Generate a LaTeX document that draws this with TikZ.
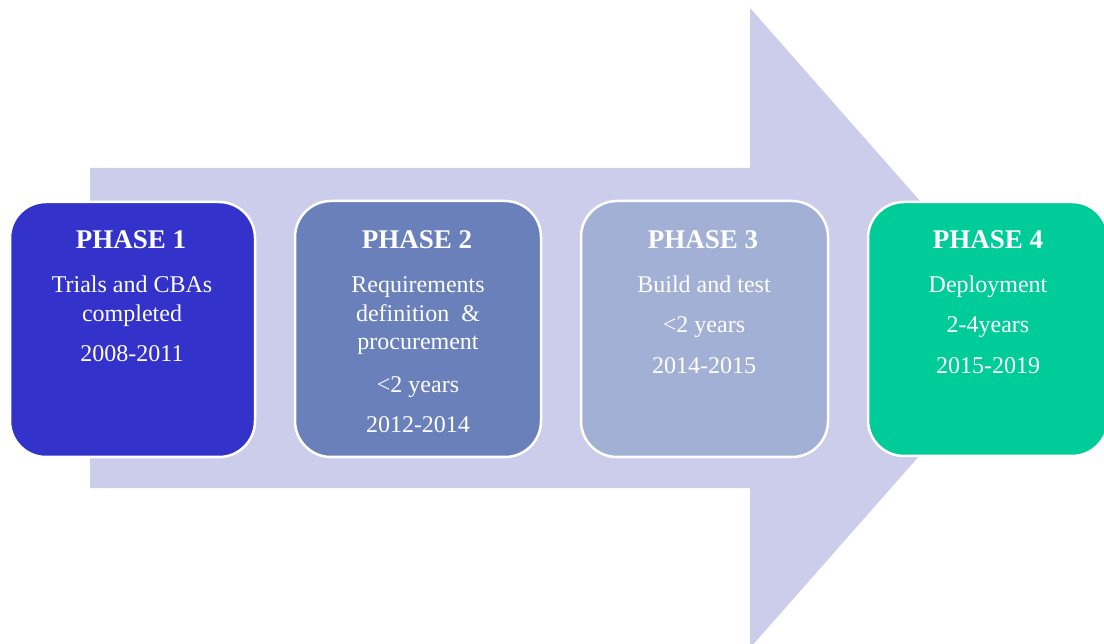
\documentclass[tikz,border=0pt]{standalone}
\usepackage{fontspec}
\setmainfont{Liberation Serif}
\definecolor{arrowfill}{RGB}{204,204,235}
\definecolor{c1}{RGB}{51,51,204}
\definecolor{c2}{RGB}{106,128,186}
\definecolor{c3}{RGB}{163,176,214}
\definecolor{c4}{RGB}{0,204,153}
\tikzset{
  phasebox/.style={draw=white, line width=2.5pt, rounded corners=36pt, inner sep=0pt, rectangle},
  head/.style={text=white, anchor=base, inner sep=0pt, font=\fontsize{27}{30}\selectfont\bfseries},
  body/.style={text=white, anchor=base, inner sep=0pt, font=\fontsize{24}{28}\selectfont},
}
\begin{document}
\begin{tikzpicture}[x=1pt,y=-1pt]
\useasboundingbox (0,0) rectangle (1104,644);
\begin{scope}
\clip (0,0) rectangle (1104,644);
% big arrow
\fill[arrowfill] (90,168) -- (750,168) -- (750,8) -- (1032,328) -- (750,648) -- (750,488) -- (90,488) -- cycle;
% boxes
\node[phasebox, fill=c1, minimum width=245pt, minimum height=255pt] (p1) at (132.5,329.5) {};
\node[phasebox, fill=c2, minimum width=246pt, minimum height=256pt] (p2) at (418,329) {};
\node[phasebox, fill=c3, minimum width=247pt, minimum height=256pt] (p3) at (704.5,329) {};
\node[phasebox, fill=c4, minimum width=240pt, minimum height=254pt] (p4) at (988,329) {};
\end{scope}
% Phase 1
\node[head] (h1) at (131,249) {PHASE 1};
\node[body] (t1a) at (132,293) {Trials and CBAs};
\node[body] (t1b) at (132,322) {completed};
\node[body] (t1c) at (132,362) {2008-2011};
% Phase 2
\node[head] (h2) at (417,249) {PHASE 2};
\node[body] (t2a) at (418,293) {Requirements};
\node[body] (t2b) at (418,322) {definition\ \ \&};
\node[body] (t2c) at (418,350) {procurement};
\node[body] (t2d) at (418,393) {<2 years};
\node[body] (t2e) at (418,433) {2012-2014};
% Phase 3
\node[head] (h3) at (703,249) {PHASE 3};
\node[body] (t3a) at (704,293) {Build and test};
\node[body] (t3b) at (704,333) {<2 years};
\node[body] (t3c) at (704,374) {2014-2015};
% Phase 4
\node[head] (h4) at (988,249) {PHASE 4};
\node[body] (t4a) at (988,293) {Deployment};
\node[body] (t4b) at (988,333) {2-4years};
\node[body] (t4c) at (988,374) {2015-2019};
\end{tikzpicture}
\end{document}
